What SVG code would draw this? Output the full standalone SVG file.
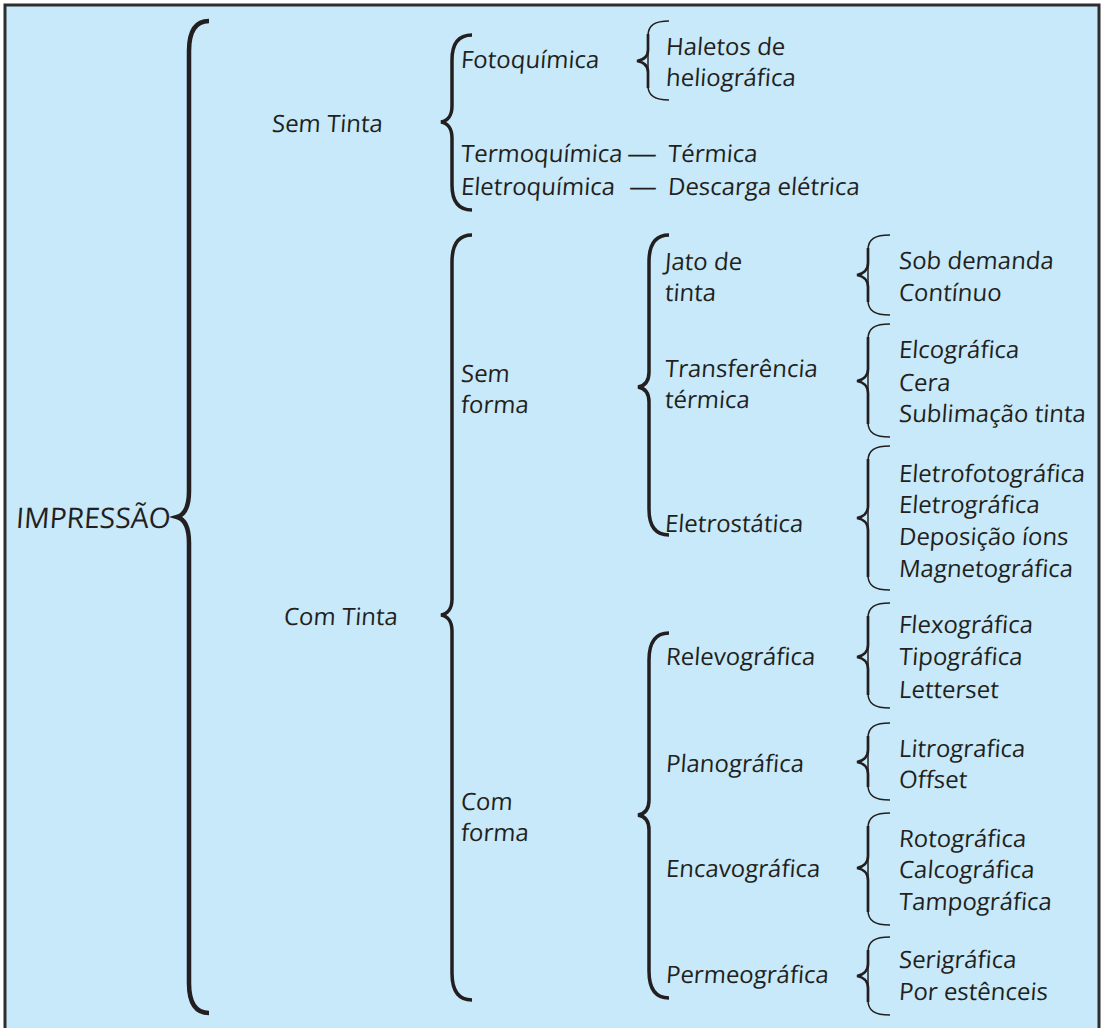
<svg xmlns="http://www.w3.org/2000/svg" width="1104" height="1028" viewBox="0 0 1104 1028">
  <style>
    .t { font-family: "Open Sans", "Liberation Sans", sans-serif; font-weight: 400; font-size: 24px; fill: #231F20;
         transform-box: fill-box; transform-origin: 0 100%; transform: skewX(-4deg); }
    .root { font-size: 28.3px; }
    .br1 { fill: none; stroke: #231F20; stroke-width: 4.5; }
    .br2 { fill: none; stroke: #231F20; stroke-width: 3.5; }
    .br3 { fill: none; stroke: #231F20; stroke-width: 2.7; }
    .hook { fill: none; stroke: #231F20; stroke-width: 1.5; }
  </style>

  <!-- panel -->
  <rect x="0" y="0" width="1104" height="1028" fill="#FFFFFF"/>
  <rect x="5" y="5" width="1094" height="1030" fill="#C7E9F9"/>
  <path d="M5,1028 V5 H1099 V1028" fill="none" stroke="#2E2E2E" stroke-width="3"/>

  <!-- braces -->
  <g id="connectors">
    <!-- IMPRESSÃO -->
    <path class="br1" d="M209,21 C196,21 189,30 189,51 L189,491 C189,508 184,515 177,517 C184,519 189,526 189,543 L189,983 C189,1004 196,1013 209,1013"/>
    <!-- Sem Tinta -->
    <path class="br2" d="M472,35 C459,35 452,43 452,60 L452,106 C452,116 447,121 441,122 C447,123 452,128 452,138 L452,185 C452,202 459,210 472,210"/>
    <!-- Com Tinta -->
    <path class="br2" d="M472,235 C459,235 452,244 452,262 L452,599 C452,609 447,614 441,615 C447,616 452,621 452,631 L452,973 C452,991 459,1000 472,1000"/>
    <!-- Sem forma -->
    <path class="br2" d="M669,235 C656,235 649,244 649,262 L649,372 C649,382 644,386 638,387 C644,388 649,392 649,402 L649,509 C649,527 656,535 669,535"/>
    <!-- Com forma -->
    <path class="br2" d="M669,633 C656,633 649,642 649,660 L649,800 C649,810 644,814 638,815 C644,816 649,820 649,830 L649,971 C649,989 656,998 669,998"/>

    <!-- Fotoquímica -->
    <path class="hook" d="M669,21 C655,21 648,25 648,36 L648,86 C648,96 655,100 669,100"/>
    <path class="br3" d="M648,34 L648,50 C648,57 643,60 637,61 C643,62 648,65 648,72 L648,88"/>

    <!-- Jato de tinta -->
    <path class="hook" d="M890,235 C875,235 868,239 868,250 L868,300 C868,311 875,315 890,315"/>
    <path class="br3" d="M868,248 L868,263 C868,270 863,274 857,275 C863,276 868,280 868,287 L868,302"/>
    <!-- Transferência térmica -->
    <path class="hook" d="M890,324 C875,324 868,328 868,339 L868,422 C868,433 875,437 890,437"/>
    <path class="br3" d="M868,337 L868,369 C868,376 863,380 857,381 C863,382 868,386 868,393 L868,424"/>
    <!-- Eletrostática -->
    <path class="hook" d="M890,446 C875,446 868,450 868,461 L868,575 C868,586 875,590 890,590"/>
    <path class="br3" d="M868,459 L868,506 C868,513 863,517 857,518 C863,519 868,523 868,530 L868,577"/>
    <!-- Relevográfica -->
    <path class="hook" d="M890,603 C875,603 868,607 868,618 L868,693 C868,704 875,708 890,708"/>
    <path class="br3" d="M868,616 L868,645 C868,652 863,656 857,657 C863,658 868,662 868,669 L868,695"/>
    <!-- Planográfica -->
    <path class="hook" d="M890,723 C875,723 868,727 868,738 L868,785 C868,796 875,800 890,800"/>
    <path class="br3" d="M868,736 L868,750 C868,757 863,761 857,762 C863,763 868,767 868,774 L868,787"/>
    <!-- Encavográfica -->
    <path class="hook" d="M890,813 C875,813 868,817 868,828 L868,910 C868,921 875,925 890,925"/>
    <path class="br3" d="M868,826 L868,856 C868,863 863,867 857,868 C863,869 868,873 868,880 L868,912"/>
    <!-- Permeográfica -->
    <path class="hook" d="M890,937 C875,937 868,941 868,952 L868,1000 C868,1011 875,1015 890,1015"/>
    <path class="br3" d="M868,950 L868,964 C868,971 863,975 857,976 C863,977 868,981 868,988 L868,1002"/>
  </g>

  <!-- level 0 -->
  <g id="impressao"><text class="t root" x="15" y="528">IMPRESSÃO</text></g>

  <!-- level 1 -->
  <g id="sem-tinta"><text class="t" x="271" y="132">Sem Tinta</text></g>
  <g id="com-tinta"><text class="t" x="283" y="625">Com Tinta</text></g>

  <!-- level 2: without ink -->
  <g id="fotoquimica"><text class="t" x="460" y="68">Fotoquímica</text></g>
  <g id="haletos">
    <text class="t" x="665" y="55">Haletos de</text>
    <text class="t" x="665" y="86">heliográfica</text>
  </g>
  <g id="termoquimica">
    <text class="t" x="460" y="162">Termoquímica</text>
    <text class="t" x="626" y="162" textLength="30" lengthAdjust="spacingAndGlyphs">—</text>
  </g>
  <g id="termica"><text class="t" x="667" y="162">Térmica</text></g>
  <g id="eletroquimica">
    <text class="t" x="460" y="195">Eletroquímica</text>
    <text class="t" x="628" y="195" textLength="28" lengthAdjust="spacingAndGlyphs">—</text>
  </g>
  <g id="descarga"><text class="t" x="667" y="195">Descarga elétrica</text></g>

  <!-- level 2: with ink -->
  <g id="sem-forma">
    <text class="t" x="460" y="382">Sem</text>
    <text class="t" x="460" y="413">forma</text>
  </g>
  <g id="com-forma">
    <text class="t" x="460" y="810">Com</text>
    <text class="t" x="460" y="841">forma</text>
  </g>

  <!-- level 3 -->
  <g id="jato">
    <text class="t" x="664" y="270">Jato de</text>
    <text class="t" x="664" y="301">tinta</text>
  </g>
  <g id="transferencia">
    <text class="t" x="664" y="377">Transferência</text>
    <text class="t" x="664" y="408">térmica</text>
  </g>
  <g id="eletrostatica"><text class="t" x="664" y="532">Eletrostática</text></g>
  <g id="relevografica"><text class="t" x="665" y="665">Relevográfica</text></g>
  <g id="planografica"><text class="t" x="665" y="772">Planográfica</text></g>
  <g id="encavografica"><text class="t" x="665" y="877">Encavográfica</text></g>
  <g id="permeografica"><text class="t" x="665" y="983">Permeográfica</text></g>

  <!-- level 4 -->
  <g id="jato-tipos">
    <text class="t" x="898" y="269">Sob demanda</text>
    <text class="t" x="898" y="301">Contínuo</text>
  </g>
  <g id="transferencia-tipos">
    <text class="t" x="898" y="358">Elcográfica</text>
    <text class="t" x="898" y="391">Cera</text>
    <text class="t" x="898" y="422">Sublimação tinta</text>
  </g>
  <g id="eletrostatica-tipos">
    <text class="t" x="898" y="482">Eletrofotográfica</text>
    <text class="t" x="898" y="513">Eletrográfica</text>
    <text class="t" x="898" y="545">Deposição íons</text>
    <text class="t" x="898" y="577">Magnetográfica</text>
  </g>
  <g id="relevografica-tipos">
    <text class="t" x="898" y="633">Flexográfica</text>
    <text class="t" x="898" y="665">Tipográfica</text>
    <text class="t" x="898" y="698">Letterset</text>
  </g>
  <g id="planografica-tipos">
    <text class="t" x="898" y="757">Litrografica</text>
    <text class="t" x="898" y="788">Offset</text>
  </g>
  <g id="encavografica-tipos">
    <text class="t" x="898" y="847">Rotográfica</text>
    <text class="t" x="898" y="878">Calcográfica</text>
    <text class="t" x="898" y="910">Tampográfica</text>
  </g>
  <g id="permeografica-tipos">
    <text class="t" x="898" y="968">Serigráfica</text>
    <text class="t" x="898" y="1000">Por estênceis</text>
  </g>
</svg>
